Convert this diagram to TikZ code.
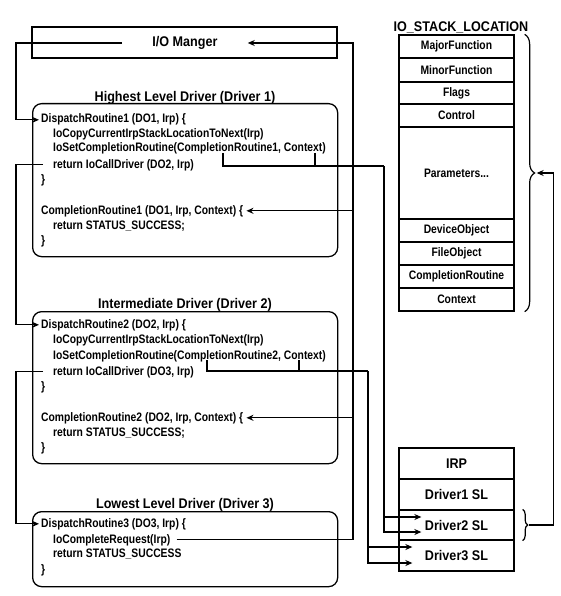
\documentclass[tikz,border=0pt]{standalone}
\usepackage{fontspec}
\setmainfont{Liberation Sans}[FakeStretch=0.9]
\newfontfamily\codefam{Liberation Sans}[FakeStretch=0.84]
\usetikzlibrary{arrows.meta,decorations.pathreplacing}
\newcommand{\codefont}{\codefam\bfseries\fontsize{12.3pt}{14pt}\selectfont}
\newcommand{\headfont}{\bfseries\fontsize{14pt}{16pt}\selectfont}
\tikzset{
  code/.style={font=\codefont, anchor=base west, inner sep=0pt},
  head/.style={font=\headfont, inner sep=0pt},
  drvbox/.style={draw, line width=1.3pt, rounded corners=9pt, minimum width=305pt, anchor=north west},
  cell/.style={draw, line width=1.3pt, minimum width=115pt, font=\codefont, inner sep=0pt},
  irpcell/.style={cell, font=\headfont},
  link/.style={line width=1.2pt},
  tip/.style={-{Stealth[length=7pt,width=6pt]}},
}
\begin{document}
\begin{tikzpicture}[x=1pt,y=-1pt]
    \useasboundingbox (0,0) rectangle (560,596);

    \node[draw, line width=1.3pt, minimum width=305pt, minimum height=31pt] (iombox) at (184.5,42.5) {};
    \node[head, inner xsep=30pt] (iomtext) at (185,43) {I/O Manger};

    \node[head, anchor=base] (drv1title) at (185,102) {Highest Level Driver (Driver 1)};
    \node[drvbox, minimum height=153pt] (drv1) at (32,103) {};
      \node[code] (d1a) at (41,123) {DispatchRoutine1 (DO1, Irp) \{};
      \node[code] (d1b) at (53,138) {IoCopyCurrentIrpStackLocationToNext(Irp)};
      \node[code] (d1c) at (53,152) {IoSetCompletionRoutine(CompletionRoutine1, Context)};
      \node[code] (d1d) at (53,168) {return IoCallDriver (DO2, Irp)};
      \node[code] (d1e) at (41,183) {\}};
      \node[code] (c1a) at (41,214) {CompletionRoutine1 (DO1, Irp, Context) \{};
      \node[code] (c1b) at (53,229) {return STATUS\_SUCCESS;};
      \node[code] (c1c) at (41,244) {\}};

    \node[head, anchor=base] (drv2title) at (185,308) {Intermediate Driver (Driver 2)};
    \node[drvbox, minimum height=152pt] (drv2) at (32,311) {};
      \node[code] (d2a) at (41,328) {DispatchRoutine2 (DO2, Irp) \{};
      \node[code] (d2b) at (53,343) {IoCopyCurrentIrpStackLocationToNext(Irp)};
      \node[code] (d2c) at (53,359) {IoSetCompletionRoutine(CompletionRoutine2, Context)};
      \node[code] (d2d) at (53,375) {return IoCallDriver (DO3, Irp)};
      \node[code] (d2e) at (41,390) {\}};
      \node[code] (c2a) at (41,421) {CompletionRoutine2 (DO2, Irp, Context) \{};
      \node[code] (c2b) at (53,436) {return STATUS\_SUCCESS;};
      \node[code] (c2c) at (41,451) {\}};

    \node[head, anchor=base] (drv3title) at (185,508) {Lowest Level Driver (Driver 3)};
    \node[drvbox, minimum height=75pt] (drv3) at (32,511) {};
      \node[code] (d3a) at (41,527) {DispatchRoutine3 (DO3, Irp) \{};
      \node[code] (d3b) at (53,543) {IoCompleteRequest(Irp)};
      \node[code] (d3c) at (53,557) {return STATUS\_SUCCESS};
      \node[code] (d3d) at (41,573) {\}};

    \node[head] (isltitle) at (461,27) {IO\_STACK\_LOCATION};
    \node[cell, minimum height=23pt] (major) at (456.5,46.5) {MajorFunction};
    \node[cell, minimum height=24pt] (minor) at (456.5,70) {MinorFunction};
    \node[cell, minimum height=22pt] (flags) at (456.5,93) {Flags};
    \node[cell, minimum height=23pt] (control) at (456.5,115.5) {Control};
    \node[cell, minimum height=92pt] (params) at (456.5,173) {Parameters...};
    \node[cell, minimum height=23pt] (devobj) at (456.5,230.5) {DeviceObject};
    \node[cell, minimum height=23pt] (fileobj) at (456.5,253.5) {FileObject};
    \node[cell, minimum height=23pt] (complr) at (456.5,276.5) {CompletionRoutine};
    \node[cell, minimum height=23pt] (context) at (456.5,299.5) {Context};

    \node[irpcell, minimum height=31pt] (irp) at (456.5,463.5) {IRP};
    \node[irpcell, minimum height=31pt] (sl1) at (456.5,494.5) {Driver1 SL};
    \node[irpcell, minimum height=30pt] (sl2) at (456.5,525) {Driver2 SL};
    \node[irpcell, minimum height=31pt] (sl3) at (456.5,555.5) {Driver3 SL};

    \coordinate (lrail) at (16,0);
    \coordinate (rrail) at (353,0);
    \draw[link,tip] (iomtext.west) -| (lrail |- d1a.west) -- ([xshift=-2pt]d1a.west);
    \draw[link,tip] ([xshift=-10pt]d1d.west) -| (lrail |- d2a.west) -- ([xshift=-2pt]d2a.west);
    \draw[link,tip] ([xshift=-10pt]d2d.west) -| (lrail |- d3a.west) -- ([xshift=-2pt]d3a.west);

    \draw[link,tip] ([xshift=6pt]d3b.east) -| (rrail |- iomtext.east) -- (iomtext.east);
    \draw[link,tip] (rrail |- c2a.east) -- ([xshift=3pt]c2a.east);
    \draw[link,tip] (rrail |- c1a.east) -- ([xshift=3pt]c1a.east);

    \coordinate (t1a) at (223,153);
    \coordinate (t1b) at (315,153);
    \coordinate (j1) at (384,166);
    \draw[link] (t1a) |- (j1);
    \draw[link] (t1b) -- (t1b |- j1);
    \draw[link,tip] (j1) |- ([shift={(23pt,8pt)}]sl2.west);
    \draw[link,tip] (j1) |- ([shift={(23pt,-7pt)}]sl2.west);

    \coordinate (t2a) at (207,360);
    \coordinate (t2b) at (299,360);
    \coordinate (j2) at (368,371);
    \draw[link] (t2a) |- (j2);
    \draw[link] (t2b) -- (t2b |- j2);
    \draw[link,tip] (j2) |- ([shift={(14pt,8.5pt)}]sl3.west);
    \draw[link,tip] (j2) |- ([shift={(14pt,-7.5pt)}]sl3.west);

    \draw[link, decorate, decoration={brace, amplitude=10pt}] ([xshift=10pt]major.north east) -- ([xshift=10pt]context.south east);
    \draw[link, decorate, decoration={brace, amplitude=5pt}] ([xshift=8pt]sl2.north east) -- ([xshift=8pt]sl2.south east);
    \draw[link,tip] ([xshift=14pt]sl2.east) -- ++(25,0) |- ([xshift=22pt]params.east);
\end{tikzpicture}
\end{document}
